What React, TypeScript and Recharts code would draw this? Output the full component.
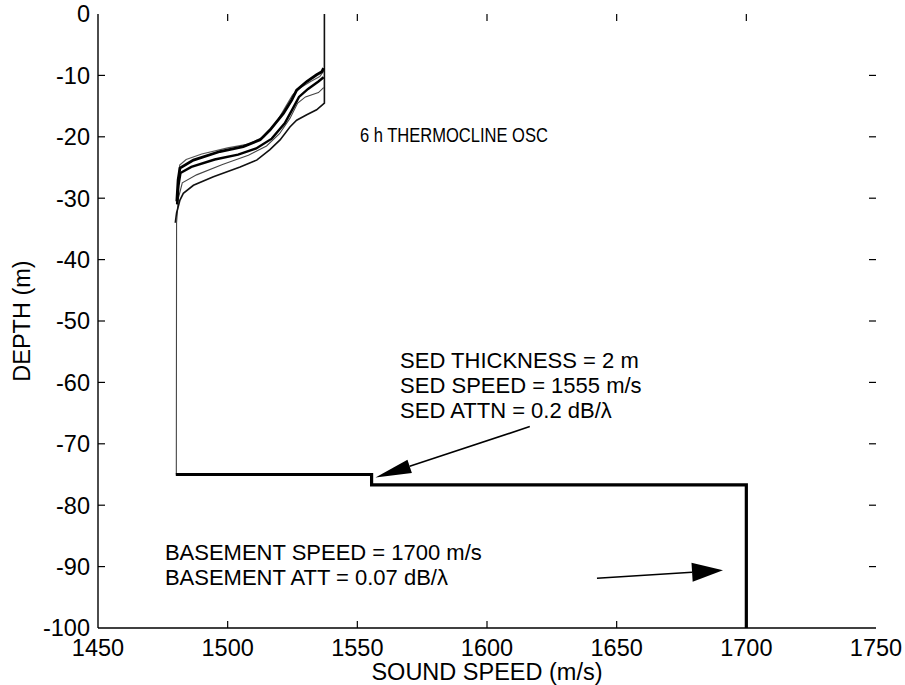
import React from "react";
import { ComposedChart, Line, XAxis, YAxis, ReferenceLine, ReferenceDot } from "recharts";

// sound speed profiles (speed m/s, depth m)
const profileA = [[1537.0, -8.8], [1536.3, -9.4], [1534.3, -9.9], [1530.5, -11.0], [1526.6, -12.4], [1524.7, -14.0], [1521.5, -16.2], [1516.3, -18.9], [1512.5, -20.5], [1506, -21.6], [1497, -22.4], [1486.8, -23.8], [1481.6, -25.1], [1480.9, -27], [1480.4, -30.5]];
const profileB = [[1537, -9.3], [1535.5, -10.2], [1532, -11], [1528, -12], [1525, -13.2], [1522.5, -15], [1519, -17.5], [1514, -20], [1508, -21.2], [1500, -21.8], [1490, -22.8], [1484, -23.7], [1481.5, -24.6], [1481, -27], [1480.6, -31]];
const profileC = [[1537, -10.3], [1535, -11], [1531, -12.2], [1527.5, -13.5], [1525, -15.5], [1522, -17.8], [1517, -20.3], [1511, -21.9], [1504, -22.9], [1495, -23.7], [1486, -24.9], [1481.8, -25.9], [1481, -28], [1480.5, -31]];
const profileD = [[1537, -12], [1535, -12.8], [1530, -13.5], [1527, -14.5], [1524, -17], [1520, -19.5], [1515, -21.5], [1508, -23], [1498, -24.5], [1488, -26.2], [1482.5, -27.5], [1481, -30], [1480.3, -34], [1480.2, -75]];
const profileE = [[1537.3, 0], [1537.3, -14.5], [1534.3, -15.6], [1530.5, -16.4], [1526.6, -17.3], [1524, -18.4], [1520.2, -20.5], [1516.3, -22.1], [1511.2, -23.8], [1504.8, -24.9], [1494.5, -26.5], [1486.8, -27.9], [1482.9, -29.2], [1481.6, -30.3], [1480.3, -32.4], [1479.8, -34]];

// sediment + basement step
const bottomProfile = [[1480, -75], [1555.5, -75], [1555.5, -76.7], [1700, -76.7], [1700, -100]];

const xTicks = [1450, 1500, 1550, 1600, 1650, 1700, 1750];
const yTicks = [-100, -90, -80, -70, -60, -50, -40, -30, -20, -10, 0];

const thermoText = ["6 h THERMOCLINE OSC"];
const sedText = ["SED THICKNESS = 2 m", "SED SPEED = 1555 m/s", "SED ATTN = 0.2 dB/\u03bb"];
const baseText = ["BASEMENT SPEED = 1700 m/s", "BASEMENT ATT = 0.07 dB/\u03bb"];

const toRows = (pts: number[][]) => pts.map(([speed, depth]) => ({ speed, depth }));

const FONT = '"Liberation Sans", Arial, Helvetica, sans-serif';
const FS = 23.5;

const textBlock = (lines: string[], size: number, gap: number, fitWidth?: number) => (props: any) => {
    const vb = props.viewBox || {};
    return (
        <text x={vb.x} y={vb.y} fontFamily={FONT} fontSize={size} fill="#000">
            {lines.map((l, i) => (
                <tspan
                    key={i}
                    x={vb.x}
                    dy={i === 0 ? 0 : gap}
                    {...(fitWidth ? { textLength: fitWidth, lengthAdjust: "spacingAndGlyphs" } : {})}
                >
                    {l}
                </tspan>
            ))}
        </text>
    );
};

const arrowShape = (len: number, half: number) => (props: any) => {
    const { x1, y1, x2, y2 } = props;
    const dx = x2 - x1, dy = y2 - y1;
    const d = Math.sqrt(dx * dx + dy * dy) || 1;
    const ux = dx / d, uy = dy / d;
    const bx = x2 - ux * len, by = y2 - uy * len;
    const px = -uy * half, py = ux * half;
    return (
        <g>
            <line x1={x1} y1={y1} x2={bx} y2={by} stroke="#000" strokeWidth={1.6} />
            <polygon points={`${x2},${y2} ${bx + px},${by + py} ${bx - px},${by - py}`} fill="#000" />
        </g>
    );
};

// inward tick marks (matlab style box), lengths in data units (~7px)
const TX = 2.7;
const TY = 1.14;

export default function App() {
    const tickStyle = { fontFamily: FONT, fontSize: FS, fill: "#000" };
    const innerX = xTicks.slice(1, -1);
    const innerY = yTicks.slice(1, -1);
    return (
        <div style={{ position: "absolute", left: 0, top: 0, width: 905, height: 685, background: "#fff" }}>
            <ComposedChart width={905} height={685} margin={{ top: 14, right: 29, bottom: 0, left: 0 }}>
                <XAxis
                    type="number"
                    dataKey="speed"
                    domain={[1450, 1750]}
                    ticks={xTicks}
                    allowDataOverflow
                    height={57}
                    tickSize={0}
                    tickLine={false}
                    tickMargin={11}
                    tick={tickStyle}
                    stroke="#000"
                    strokeWidth={1.4}
                    label={{
                        content: (p: any) => {
                            const vb = p.viewBox || {};
                            return (
                                <text x={vb.x + vb.width / 2} y={vb.y + 52} textAnchor="middle" fontFamily={FONT} fontSize={FS} fill="#000">
                                    SOUND SPEED (m/s)
                                </text>
                            );
                        },
                    }}
                />
                <XAxis
                    xAxisId="top"
                    orientation="top"
                    type="number"
                    dataKey="speed"
                    domain={[1450, 1750]}
                    ticks={xTicks}
                    allowDataOverflow
                    height={0}
                    tickLine={false}
                    tick={false}
                    stroke="#000"
                    strokeWidth={1.4}
                />
                <YAxis
                    type="number"
                    domain={[-100, 0]}
                    ticks={yTicks}
                    allowDataOverflow
                    width={98}
                    tickSize={0}
                    tickLine={false}
                    tickMargin={8}
                    tick={tickStyle}
                    stroke="#000"
                    strokeWidth={1.4}
                    label={{
                        content: (p: any) => {
                            const vb = p.viewBox || {};
                            const cx = vb.x + 30;
                            const cy = vb.y + vb.height / 2;
                            return (
                                <text x={cx} y={cy} transform={`rotate(-90 ${cx} ${cy})`} textAnchor="middle" fontFamily={FONT} fontSize={FS} fill="#000">
                                    DEPTH (m)
                                </text>
                            );
                        },
                    }}
                />
                <YAxis
                    yAxisId="right"
                    orientation="right"
                    type="number"
                    domain={[-100, 0]}
                    ticks={yTicks}
                    allowDataOverflow
                    width={0}
                    tickLine={false}
                    tick={false}
                    stroke="#000"
                    strokeWidth={1.4}
                />

                {innerX.map((t) => (
                    <ReferenceLine key={`b${t}`} segment={[{ x: t, y: -100 }, { x: t, y: -100 + TY }]} stroke="#000" strokeWidth={1.2} />
                ))}
                {innerX.map((t) => (
                    <ReferenceLine key={`t${t}`} segment={[{ x: t, y: 0 }, { x: t, y: -TY }]} stroke="#000" strokeWidth={1.2} />
                ))}
                {innerY.map((t) => (
                    <ReferenceLine key={`l${t}`} segment={[{ x: 1450, y: t }, { x: 1450 + TX, y: t }]} stroke="#000" strokeWidth={1.2} />
                ))}
                {innerY.map((t) => (
                    <ReferenceLine key={`r${t}`} segment={[{ x: 1750, y: t }, { x: 1750 - TX, y: t }]} stroke="#000" strokeWidth={1.2} />
                ))}

                <Line data={toRows(profileB)} dataKey="depth" stroke="#555" strokeWidth={1.2} dot={false} isAnimationActive={false} />
                <Line data={toRows(profileD)} dataKey="depth" stroke="#444" strokeWidth={1.1} dot={false} isAnimationActive={false} />
                <Line data={toRows(profileE)} dataKey="depth" stroke="#111" strokeWidth={1.6} dot={false} isAnimationActive={false} />
                <Line data={toRows(profileC)} dataKey="depth" stroke="#000" strokeWidth={2.4} dot={false} isAnimationActive={false} />
                <Line data={toRows(profileA)} dataKey="depth" stroke="#000" strokeWidth={2.8} dot={false} isAnimationActive={false} />
                <Line data={toRows(bottomProfile)} dataKey="depth" stroke="#000" strokeWidth={3.2} dot={false} strokeLinejoin="miter" isAnimationActive={false} />

                <ReferenceLine segment={[{ x: 1616.5, y: -67.2 }, { x: 1557, y: -75.5 }]} shape={arrowShape(36, 7)} ifOverflow="visible" />
                <ReferenceLine segment={[{ x: 1642.4, y: -91.9 }, { x: 1691, y: -90.6 }]} shape={arrowShape(31, 9.5)} ifOverflow="visible" />

                <ReferenceDot x={1551} y={-20.9} r={0} fill="none" stroke="none" label={{ content: textBlock(thermoText, 19.5, 0, 188) }} />
                <ReferenceDot x={1566.5} y={-57.6} r={0} fill="none" stroke="none" label={{ content: textBlock(sedText, 22, 25) }} />
                <ReferenceDot x={1475.8} y={-88.9} r={0} fill="none" stroke="none" label={{ content: textBlock(baseText, 22, 25) }} />
            </ComposedChart>
        </div>
    );
}
